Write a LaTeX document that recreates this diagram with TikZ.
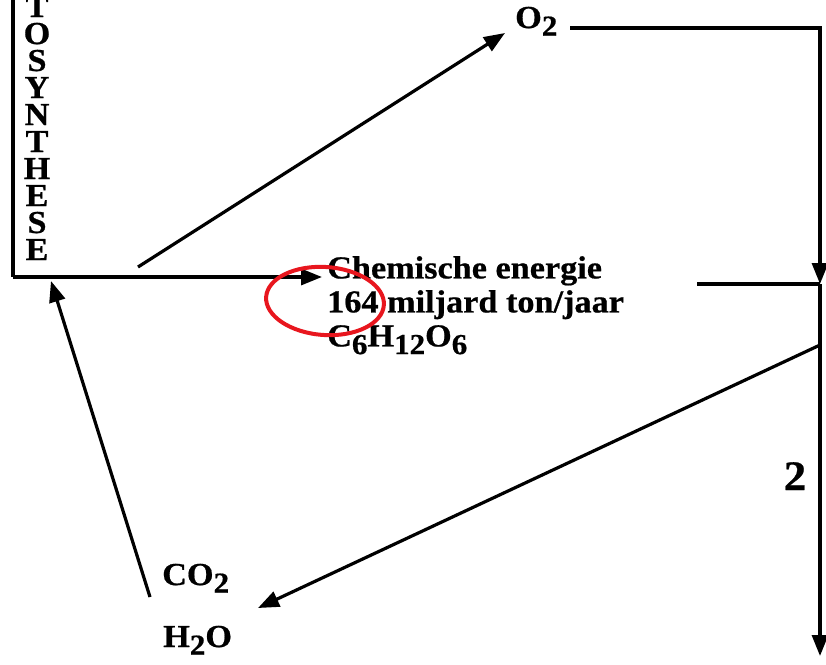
\documentclass[tikz,border=0pt]{standalone}
\usepackage{fontspec}
\setmainfont{Liberation Serif}[BoldFeatures={FakeBold=0.6}]
\usetikzlibrary{arrows.meta,positioning}
\definecolor{markred}{RGB}{232,22,30}
\newcommand{\lowsub}[1]{\raisebox{-.24em}{\fontsize{29}{29}\selectfont #1}}

\begin{document}
\begin{tikzpicture}[
  x=1pt,y=-1pt,
  lbl/.style={font=\fontsize{32}{34}\selectfont\bfseries,inner sep=0pt,xscale=1.07},
  ln/.style={line width=3.2pt},
  arc/.style={line width=3.2pt,-{Triangle[length=21pt,width=16pt]}}
]
  \useasboundingbox (0,0) rectangle (826,664);
  % labels
  \foreach \ch [count=\i] in {T,O,S,Y,N,T,H,E,S,E}
    \node[lbl,anchor=base] (foto\i) at (37,{17+27*(\i-1)}) {\ch};
  \node[lbl,align=left,anchor=north west] (energie) at (327,256)
    {Chemische energie\\164 miljard ton/jaar\\C\lowsub{6}H\lowsub{12}O\lowsub{6}};
  \node[lbl,anchor=base west] (o2) at (515,28) {O\lowsub{2}};
  \node[lbl,anchor=base west] (co2) at (162,585) {CO\lowsub{2}};
  \node[lbl,anchor=base west] (h2o) at (163,647) {H\lowsub{2}O};
  \node[lbl,anchor=base,font=\fontsize{42}{42}\selectfont\bfseries] (twee) at (795,490) {2};

  % box and points
  \coordinate (boxtop) at (13,-3);
  \coordinate (boxcorner) at (13,277);
  \coordinate (enin) at (322,277);
  \coordinate (upstart) at (138,267);
  \coordinate (upend) at (505,33);
  \coordinate (o2out) at (570,28);
  \coordinate (rtop) at (820,28);
  \coordinate (rmid) at (820,284);
  \coordinate (rbot) at (820,656);
  \coordinate (enout) at (697,284);
  \coordinate (dstart) at (820,345);
  \coordinate (dend) at (258,608);
  \coordinate (lstart) at (150,597);
  \coordinate (lend) at (51,281);

  % connectors
  \draw[ln] (boxtop) -- (boxcorner);
  \draw[arc] (boxcorner) -- (enin);
  \draw[arc] (upstart) -- (upend);
  \draw[arc] (o2out) -- (rtop) -- (rmid);
  \draw[ln] (enout) -- (rmid);
  \draw[arc] (rmid) -- (rbot);
  \draw[arc] (dstart) -- (dend);
  \draw[arc] (lstart) -- (lend);

  % red ring
  \draw[markred,line width=4pt,rotate around={-4:(325,301)}] (325,301) ellipse [x radius=59,y radius=34];
\end{tikzpicture}
\end{document}
